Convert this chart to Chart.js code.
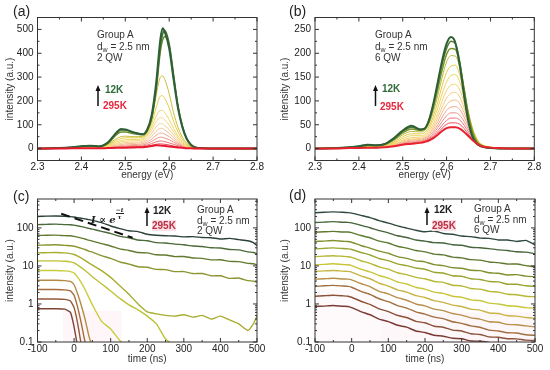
<!DOCTYPE html>
<html>
<head>
<meta charset="utf-8">
<script src="https://cdn.jsdelivr.net/npm/chart.js@4.4.1/dist/chart.umd.min.js"></script>
<style>
  body { margin: 0; background: #fff; }
  #fig { position: relative; width: 550px; height: 370px; overflow: hidden; font-family: "Liberation Sans", Arial, sans-serif; color: #333; }
  canvas { position: absolute; }
  .lab { position: absolute; font-size: 14px; color: #222; }
  .note { position: absolute; font-size: 10px; white-space: nowrap; color: #333; }
  .note sub { font-size: 7px; vertical-align: -2px; line-height: 0; }
  .k { position: absolute; font-size: 10px; font-weight: bold; white-space: nowrap; }
  .fit { position: absolute; font-family: "DejaVu Serif", serif; font-style: italic; font-weight: bold; font-size: 10px; color: #222; white-space: nowrap; }
  .frac { display: inline-block; vertical-align: 4px; font-size: 6px; line-height: 6px; text-align: center; }
  .frac span { display: block; }
  .frac span:first-child { border-bottom: 1px solid #222; }
  svg { position: absolute; left: 0; top: 0; }
</style>
</head>
<body>
<div id="fig">
  <canvas id="ca" width="275" height="185" style="left:0;top:0"></canvas>
  <canvas id="cb" width="275" height="185" style="left:275px;top:0"></canvas>
  <canvas id="cc" width="275" height="185" style="left:0;top:185px"></canvas>
  <canvas id="cd" width="275" height="185" style="left:275px;top:185px"></canvas>

  <div class="lab" style="left:13px;top:3px">(a)</div>
  <div class="lab" style="left:289px;top:3px">(b)</div>
  <div class="lab" style="left:13px;top:188px">(c)</div>
  <div class="lab" style="left:289px;top:187px">(d)</div>

  <div class="note" style="left:97px;top:29px;line-height:11.5px">Group A<br>d<sub>w</sub> = 2.5 nm<br>2 QW</div>
  <div class="note" style="left:375px;top:29px;line-height:11.5px">Group A<br>d<sub>w</sub> = 2.5 nm<br>6 QW</div>
  <div class="note" style="left:197px;top:205px;line-height:10.5px">Group A<br>d<sub>w</sub> = 2.5 nm<br>2 QW</div>
  <div class="note" style="left:474px;top:204px;line-height:10.5px">Group A<br>d<sub>w</sub> = 2.5 nm<br>6 QW</div>

  <div class="k" style="left:105px;top:84px;color:#2f6b3a">12K</div>
  <div class="k" style="left:103px;top:100px;color:#e8273e">295K</div>
  <div class="k" style="left:382px;top:83px;color:#2f6b3a">12K</div>
  <div class="k" style="left:380px;top:101px;color:#e8273e">295K</div>
  <div class="k" style="left:153px;top:205px;color:#222">12K</div>
  <div class="k" style="left:152px;top:220px;color:#b8303f;background:#fbe0e8">295K</div>
  <div class="k" style="left:434px;top:204px;color:#222">12K</div>
  <div class="k" style="left:432px;top:220px;color:#b8303f;background:#fbe0e8">295K</div>

  <div class="fit" style="left:91px;top:207px">I ∝ e<span class="frac"><span>−t</span><span>τ</span></span></div>

  <svg width="550" height="370">
    <g stroke="#111" stroke-width="1.5" fill="#111">
      <line x1="98" y1="106" x2="98" y2="90"/><polygon points="98,85 95.5,91 100.5,91" stroke="none"/>
      <line x1="375.5" y1="106" x2="375.5" y2="90"/><polygon points="375.5,85 373,91 378,91" stroke="none"/>
      <line x1="147" y1="226" x2="147" y2="212"/><polygon points="147,207 144.5,213 149.5,213" stroke="none"/>
      <line x1="427" y1="225" x2="427" y2="212"/><polygon points="427,207 424.5,213 429.5,213" stroke="none"/>
    </g>
  </svg>
</div>

<script>
// ---- data: PL spectra, panel (a) 2 QW ----
const energyA = [2.30, 2.35, 2.38, 2.40, 2.42, 2.44, 2.46, 2.48, 2.49, 2.50, 2.52, 2.54, 2.55, 2.56, 2.57, 2.58, 2.585, 2.59, 2.60, 2.61, 2.62, 2.63, 2.64, 2.65, 2.66, 2.68, 2.70, 2.75, 2.80];
const spectraA = [
  [0, 2, 6, 10, 12, 9, 25, 68, 82, 80, 68, 60, 80, 140, 270, 460, 505, 490, 420, 290, 170, 90, 40, 15, 5, 1, 0, 0, 0],
  [0, 2, 6, 10, 12, 9, 24, 65, 78, 78, 66, 60, 78, 130, 250, 430, 480, 495, 440, 310, 180, 95, 42, 16, 5, 1, 0, 0, 0],
  [0, 2, 5, 9, 11, 9, 22, 58, 70, 70, 62, 58, 75, 125, 240, 410, 455, 470, 430, 300, 175, 92, 40, 15, 5, 1, 0, 0, 0],
  [0, 2, 5, 8, 10, 8, 18, 42, 50, 52, 50, 52, 70, 120, 220, 300, 305, 290, 230, 150, 90, 48, 22, 8, 3, 1, 0, 0, 0],
  [0, 2, 5, 8, 9, 7, 15, 35, 42, 45, 45, 48, 65, 105, 170, 220, 222, 210, 170, 115, 70, 38, 18, 7, 2, 0, 0, 0, 0],
  [0, 2, 4, 7, 8, 6, 12, 28, 34, 37, 38, 42, 58, 90, 135, 160, 160, 150, 122, 85, 52, 30, 14, 6, 2, 0, 0, 0, 0],
  [0, 2, 4, 6, 7, 5, 10, 22, 28, 31, 33, 37, 52, 78, 112, 130, 128, 120, 98, 70, 44, 25, 12, 5, 2, 0, 0, 0, 0],
  [0, 1, 3, 5, 6, 4, 8, 18, 22, 25, 27, 31, 44, 64, 90, 105, 103, 96, 80, 57, 36, 20, 10, 4, 1, 0, 0, 0, 0],
  [0, 1, 3, 4, 5, 4, 7, 14, 17, 20, 22, 26, 36, 52, 72, 85, 84, 78, 64, 46, 29, 16, 8, 3, 1, 0, 0, 0, 0],
  [0, 1, 2, 3, 4, 3, 5, 10, 13, 15, 17, 20, 28, 40, 55, 65, 64, 60, 50, 36, 23, 13, 6, 2, 1, 0, 0, 0, 0],
  [0, 1, 2, 3, 3, 2, 4, 8, 10, 11, 13, 15, 21, 30, 41, 48, 47, 44, 37, 27, 17, 10, 5, 2, 1, 0, 0, 0, 0],
  [0, 1, 1, 2, 2, 2, 3, 5, 7, 8, 9, 11, 15, 21, 28, 32, 31, 29, 24, 18, 12, 7, 3, 1, 0, 0, 0, 0, 0],
  [0, 0, 1, 1, 2, 1, 2, 4, 5, 5, 6, 8, 10, 14, 18, 20, 19, 18, 15, 11, 7, 4, 2, 1, 0, 0, 0, 0, 0],
  [0, 0, 1, 1, 1, 1, 2, 3, 3, 4, 5, 6, 8, 11, 14, 13, 12, 11, 9, 7, 5, 3, 1, 1, 0, 0, 0, 0, 0]
];

// ---- data: PL spectra, panel (b) 6 QW ----
const energyB = [2.30, 2.35, 2.38, 2.40, 2.42, 2.44, 2.46, 2.48, 2.50, 2.52, 2.54, 2.55, 2.56, 2.57, 2.58, 2.59, 2.60, 2.61, 2.62, 2.63, 2.64, 2.65, 2.66, 2.67, 2.68, 2.70, 2.72, 2.75, 2.80];
const spectraB = [
  [0, 1, 3, 5, 8, 7, 10, 22, 38, 48, 40, 42, 60, 95, 140, 185, 220, 234, 222, 175, 110, 55, 22, 9, 4, 1, 0, 0, 0],
  [0, 1, 3, 5, 7, 7, 10, 21, 36, 45, 40, 42, 60, 92, 135, 178, 210, 225, 220, 182, 120, 62, 26, 11, 5, 1, 0, 0, 0],
  [0, 1, 3, 4, 7, 6, 9, 19, 33, 41, 38, 41, 57, 86, 125, 165, 198, 210, 208, 178, 125, 70, 32, 13, 6, 2, 0, 0, 0],
  [0, 1, 2, 4, 6, 6, 8, 17, 29, 36, 35, 38, 52, 78, 112, 150, 182, 195, 194, 170, 125, 75, 38, 16, 7, 2, 1, 0, 0],
  [0, 1, 2, 4, 5, 5, 7, 14, 25, 31, 31, 34, 46, 68, 98, 132, 160, 173, 175, 155, 118, 75, 40, 18, 8, 2, 1, 0, 0],
  [0, 1, 2, 3, 5, 5, 6, 12, 21, 27, 27, 30, 41, 60, 86, 115, 140, 153, 155, 140, 108, 72, 40, 19, 9, 3, 1, 0, 0],
  [0, 1, 2, 3, 4, 4, 6, 10, 18, 23, 24, 27, 36, 52, 74, 100, 122, 133, 135, 123, 96, 65, 37, 18, 9, 3, 1, 0, 0],
  [0, 1, 2, 3, 4, 4, 5, 9, 16, 20, 21, 24, 32, 46, 65, 87, 106, 116, 118, 108, 85, 58, 34, 17, 8, 3, 1, 0, 0],
  [0, 1, 1, 2, 3, 3, 5, 8, 14, 18, 19, 22, 29, 41, 57, 76, 92, 100, 102, 94, 75, 52, 31, 16, 8, 3, 1, 0, 0],
  [0, 1, 1, 2, 3, 3, 4, 7, 12, 16, 17, 20, 26, 36, 50, 66, 80, 87, 88, 82, 66, 46, 28, 15, 7, 3, 1, 0, 0],
  [0, 1, 1, 2, 3, 3, 4, 6, 11, 14, 15, 18, 23, 32, 44, 57, 69, 75, 75, 70, 57, 40, 25, 14, 7, 3, 1, 0, 0],
  [0, 0, 1, 2, 2, 2, 3, 6, 10, 12, 14, 16, 21, 28, 38, 49, 59, 64, 64, 60, 49, 35, 22, 12, 6, 2, 1, 0, 0],
  [0, 0, 1, 1, 2, 2, 3, 5, 9, 11, 13, 15, 19, 25, 33, 43, 51, 54, 54, 51, 42, 30, 19, 11, 5, 2, 1, 0, 0],
  [0, 0, 1, 1, 2, 2, 3, 5, 8, 10, 12, 14, 17, 22, 29, 37, 43, 45, 45, 42, 35, 26, 17, 10, 5, 2, 1, 0, 0]
];

// ---- data: decay transients, panel (c) 2 QW ----
const timeC = [-100, -75, -50, -25, -10, 0, 10, 20, 30, 40, 50, 75, 100, 125, 150, 175, 200, 225, 250, 275, 300, 325, 350, 375, 400, 425, 450, 475, 490, 500];
const decaysC = [
  [200, 204, 206, 203, 198, 193, 186, 179, 172, 165, 158, 138, 112, 96, 84, 80, 68, 64, 62, 61, 58, 59, 56, 55, 51, 53, 49, 46, 41, 34],
  [122, 124, 126, 122, 121, 118, 113, 108, 103, 97, 93, 81, 71, 60, 55, 48, 46, 41, 40, 37.5, 36, 33.5, 32.5, 30, 29.5, 27, 26.5, 23.5, 22.5, 21],
  [63, 64, 64.5, 62.5, 62, 60, 57, 54, 51, 47.5, 45, 38.5, 33.5, 28, 25.5, 22.5, 22, 19.6, 19.3, 17.6, 17.7, 16.2, 15.8, 14.4, 14.5, 13.2, 13, 11.7, 11.4, 10.6],
  [35, 35.5, 36, 34.6, 34, 33, 31, 29, 27, 24.6, 23, 18.6, 15.8, 12.7, 11.2, 9.5, 9.2, 8.1, 8, 7.1, 7.1, 6.3, 6.3, 5.5, 5.5, 4.7, 4.8, 4.1, 4, 3.7],
  [22, 22.3, 22.5, 22, 21, 20, 18, 16, 14, 12, 10.5, 7.5, 5, 3, 1.8, 1.0, 0.62, 0.55, 0.5, 0.48, 0.52, 0.45, 0.5, 0.4, 0.48, 0.38, 0.3, 0.2, 0.3, 0.48],
  [13.5, 13.6, 13.6, 13.3, 12.8, 12, 10.5, 9, 7.6, 6.3, 5.2, 3.4, 2.2, 1.4, 0.95, 0.7, 0.48, 0.3, 0.12, 0.08],
  [7.5, 7.6, 7.6, 7.4, 7.1, 6.5, 5, 3.6, 2.4, 1.5, 0.95, 0.35, 0.22, 0.11, 0.07],
  [4.2, 4.2, 4.2, 4.1, 3.9, 3.2, 1.8, 0.9, 0.4, 0.15, 0.07],
  [2.4, 2.4, 2.4, 2.35, 2.2, 1.7, 0.8, 0.3, 0.1, 0.06],
  [1.35, 1.35, 1.35, 1.32, 1.2, 0.8, 0.3, 0.08],
  [0.75, 0.75, 0.75, 0.73, 0.6, 0.25, 0.07]
];
const fitTime = [-35, 160];
const fitInt = [235, 55];

// ---- data: decay transients, panel (d) 6 QW ----
const timeD = [-100, -75, -50, -25, -10, 0, 25, 50, 75, 100, 125, 150, 175, 200, 225, 250, 275, 300, 325, 350, 375, 400, 425, 450, 475, 500];
const decaysD = [
  [250, 258, 263, 257, 252, 245, 214, 187, 156, 134, 113, 99, 87, 79, 83, 71, 68, 61, 59, 54, 53, 48, 48, 44, 47, 36],
  [138, 142, 146, 141, 140, 135, 117, 101, 85, 74, 62, 56, 48, 45, 41, 40, 36, 35, 31, 30, 28.5, 26.5, 25.5, 23.5, 23, 21],
  [77, 79, 81, 78, 78, 75, 63, 55, 45, 40, 33, 29.5, 25.5, 23.5, 20.5, 19.5, 17, 16.3, 14.6, 14.2, 12.7, 12.2, 11.2, 11.2, 10.2, 9.5],
  [44, 45, 46.5, 44.5, 44, 42, 34.5, 29.5, 24.5, 21.5, 17.6, 15.8, 13.6, 12.8, 10.8, 10.2, 9, 8.7, 7.7, 7.5, 6.6, 6.4, 5.8, 5.9, 5.4, 5.2],
  [28, 29, 29.8, 28.7, 28, 27, 22.6, 19.4, 15.7, 13.8, 11.3, 10.2, 8.8, 8.2, 6.8, 6.5, 5.5, 5.35, 4.6, 4.4, 3.9, 3.8, 3.3, 3.3, 3, 2.9],
  [17.6, 18.1, 18.6, 17.9, 17.5, 16.8, 13.7, 11.7, 9.4, 8.2, 6.6, 5.9, 5, 4.6, 3.9, 3.7, 3.1, 3, 2.55, 2.45, 2.15, 2.05, 1.8, 1.75, 1.6, 1.55],
  [10.7, 11, 11.4, 10.9, 10.7, 10.2, 8.2, 7, 5.6, 4.8, 3.8, 3.35, 2.75, 2.45, 2.05, 1.9, 1.6, 1.5, 1.28, 1.23, 1.05, 1, 0.9, 0.87, 0.8, 0.77],
  [7.2, 7.4, 7.6, 7.3, 7.2, 6.9, 5.5, 4.6, 3.5, 2.95, 2.35, 2.05, 1.66, 1.48, 1.22, 1.1, 0.93, 0.86, 0.73, 0.69, 0.58, 0.56, 0.49, 0.48, 0.44, 0.42],
  [4.5, 4.6, 4.75, 4.55, 4.5, 4.3, 3.45, 2.85, 2.15, 1.84, 1.46, 1.25, 1, 0.89, 0.73, 0.67, 0.56, 0.51, 0.43, 0.4, 0.34, 0.33, 0.29, 0.285, 0.265, 0.25],
  [2.9, 3, 3.08, 2.97, 2.9, 2.75, 2.15, 1.78, 1.37, 1.15, 0.9, 0.78, 0.62, 0.54, 0.45, 0.41, 0.34, 0.31, 0.265, 0.245, 0.205, 0.195, 0.175, 0.172, 0.155, 0.15],
  [1.6, 1.65, 1.7, 1.64, 1.6, 1.5, 1.18, 0.97, 0.74, 0.63, 0.5, 0.44, 0.35, 0.32, 0.26, 0.245, 0.205, 0.195, 0.165, 0.158, 0.136, 0.133, 0.122, 0.121, 0.112, 0.11],
  [0.86, 0.88, 0.91, 0.87, 0.86, 0.8, 0.63, 0.52, 0.4, 0.345, 0.275, 0.245, 0.195, 0.178, 0.15, 0.142, 0.125, 0.122, 0.106, 0.105, 0.098, 0.095]
];

// ---- axis ticks ----
const energyTicks = [2.3, 2.4, 2.5, 2.6, 2.7, 2.8];
const energyMinor = [2.35, 2.45, 2.55, 2.65, 2.75];
const intensTicksA = [0, 100, 200, 300, 400, 500];
const intensMinorA = [50, 150, 250, 350, 450];
const intensTicksB = [0, 50, 100, 150, 200, 250];
const intensMinorB = [25, 75, 125, 175, 225];
const timeTicks = [-100, 0, 100, 200, 300, 400, 500];
const timeMinor = [-50, 50, 150, 250, 350, 450];
const logTicks = [0.1, 1, 10, 100];
const logMinor = [0.2, 0.3, 0.4, 0.5, 0.6, 0.7, 0.8, 0.9, 2, 3, 4, 5, 6, 7, 8, 9, 20, 30, 40, 50, 60, 70, 80, 90, 200, 300, 400, 500];

// ---- styles ----
const colorsA = ['#2f5f36', '#46742f', '#6b8a2c', '#c9bf3a', '#e3cd45', '#efd563', '#f3d67e', '#f4cf8f', '#f3c08e', '#f1a98a', '#ef9182', '#ec7070', '#e94757', '#e8192e'];
const colorsB = ['#2f5f36', '#4f7a30', '#7a942e', '#b9b83a', '#e2cb45', '#efd25e', '#f3d272', '#f4c97e', '#f3b886', '#f2a286', '#f08c84', '#ed7077', '#ea5060', '#e8222f'];
const colorsC = ['#2b4236', '#4a6a38', '#627a2e', '#8a9530', '#a8ad2e', '#bcc236', '#c9cc3a', '#b58a45', '#a56b3c', '#935a3a', '#7e4536'];
const colorsD = ['#2f4a3c', '#46663a', '#5f7a30', '#80902e', '#9aa430', '#b6b834', '#c8c63a', '#c9b545', '#b8904a', '#a07040', '#8a5238', '#7a3a32'];

const FONT = { family: '"Liberation Sans", Arial, sans-serif', size: 10 };

// faint pink tint behind the lowest traces, as in the scanned figure
const tintPlugin = {
  id: 'tint',
  beforeDatasetsDraw(chart, args, o) {
    if (!o.boxes) return;
    const { ctx, scales: { x, y } } = chart;
    ctx.save();
    o.boxes.forEach(b => {
      const x0 = x.getPixelForValue(b.x0), x1 = x.getPixelForValue(b.x1);
      const y0 = y.getPixelForValue(b.y0), y1 = y.getPixelForValue(b.y1);
      ctx.fillStyle = b.color;
      ctx.fillRect(x0, y1, x1 - x0, y0 - y1);
    });
    ctx.restore();
  }
};

// Box frame + inward tick marks drawn on all four sides
const framePlugin = {
  id: 'frame',
  afterDatasetsDraw(chart, args, o) {
    const { ctx, chartArea: a, scales } = chart;
    const x = scales.x, y = scales.y;
    ctx.save();
    ctx.strokeStyle = '#333';
    ctx.lineWidth = 1;
    ctx.strokeRect(a.left, a.top, a.right - a.left, a.bottom - a.top);
    ctx.beginPath();
    const marks = (vals, len, horiz) => vals.forEach(v => {
      if (horiz) {
        const p = x.getPixelForValue(v);
        ctx.moveTo(p, a.bottom); ctx.lineTo(p, a.bottom - len);
        ctx.moveTo(p, a.top); ctx.lineTo(p, a.top + len);
      } else {
        const p = y.getPixelForValue(v);
        ctx.moveTo(a.left, p); ctx.lineTo(a.left + len, p);
        ctx.moveTo(a.right, p); ctx.lineTo(a.right - len, p);
      }
    });
    marks(o.xMajor, 4, true);
    marks(o.xMinor, 2, true);
    marks(o.yMajor, 4, false);
    marks(o.yMinor, 2, false);
    ctx.stroke();
    ctx.restore();
  }
};

function toPoints(xs, ys) {
  return ys.map((v, i) => ({ x: xs[i], y: v }));
}

function makePanel(id, p) {
  new Chart(document.getElementById(id), {
    type: 'line',
    data: { datasets: p.datasets },
    options: {
      responsive: false,
      animation: false,
      devicePixelRatio: 1,
      layout: { padding: { left: 0, top: p.top, right: p.right, bottom: 0 } },
      elements: { point: { radius: 0 } },
      plugins: {
        legend: { display: false },
        tooltip: { enabled: false },
        tint: { boxes: p.tint },
        frame: { xMajor: p.xTicks, xMinor: p.xMinor, yMajor: p.yTicks, yMinor: p.yMinor }
      },
      scales: {
        x: {
          type: 'linear', min: p.xMin, max: p.xMax,
          afterBuildTicks: s => { s.ticks = p.xTicks.map(v => ({ value: v })); },
          ticks: { font: FONT, color: '#222', padding: 1, maxRotation: 0, autoSkip: false, callback: p.xFmt },
          grid: { display: false, drawTicks: false },
          border: { display: false },
          title: { display: true, text: p.xTitle, font: FONT, color: '#333', padding: { top: 0, bottom: p.xTitlePad } },
          afterFit: s => { s.height = p.xHeight; }
        },
        y: {
          type: p.yType, min: p.yMin, max: p.yMax,
          afterBuildTicks: s => { s.ticks = p.yTicks.map(v => ({ value: v })); },
          ticks: { font: FONT, color: '#222', padding: 4, autoSkip: false, callback: v => String(v) },
          grid: { display: false, drawTicks: false },
          border: { display: false },
          title: { display: true, text: 'intensity (a.u.)', font: FONT, color: '#333', padding: { top: 4, bottom: 0 } },
          afterFit: s => { s.width = p.left; }
        }
      }
    },
    plugins: [tintPlugin, framePlugin]
  });
}

function spectraSets(xs, rows, colors) {
  const last = rows.length - 1;
  return rows.map((r, i) => ({
    data: toPoints(xs, r),
    borderColor: colors[i],
    borderWidth: i === 0 ? 2 : (i < 3 ? 1.5 : (i === last ? 2 : 1)),
    cubicInterpolationMode: 'monotone',
    order: i === last ? -1 : i
  }));
}

function decaySets(xs, rows, colors) {
  return rows.map((r, i) => ({
    data: toPoints(xs, r),
    borderColor: colors[i],
    borderWidth: 1.4,
    tension: 0.15
  }));
}

makePanel('ca', {
  datasets: spectraSets(energyA, spectraA, colorsA),
  left: 37.5, right: 18, top: 17.5, xHeight: 24.5,
  xMin: 2.3, xMax: 2.8, xTicks: energyTicks, xMinor: energyMinor, xFmt: v => v.toFixed(1),
  xTitle: 'energy (eV)', xTitlePad: 4,
  yType: 'linear', yMin: -50, yMax: 550, yTicks: intensTicksA, yMinor: intensMinorA
});

makePanel('cb', {
  datasets: spectraSets(energyB, spectraB, colorsB),
  left: 40, right: 15.7, top: 17.5, xHeight: 24.5,
  xMin: 2.3, xMax: 2.8, xTicks: energyTicks, xMinor: energyMinor, xFmt: v => v.toFixed(1),
  xTitle: 'energy (eV)', xTitlePad: 4,
  yType: 'linear', yMin: -25, yMax: 275, yTicks: intensTicksB, yMinor: intensMinorB
});

const setsC = decaySets(timeC, decaysC, colorsC);
setsC.unshift({
  data: toPoints(fitTime, fitInt),
  borderColor: '#111', borderWidth: 2, borderDash: [9, 5], tension: 0
});
makePanel('cc', {
  datasets: setsC,
  left: 37.5, right: 18, top: 14, xHeight: 28,
  xMin: -100, xMax: 500, xTicks: timeTicks, xMinor: timeMinor, xFmt: v => String(v),
  xTitle: 'time (ns)', xTitlePad: 5,
  yType: 'logarithmic', yMin: 0.1, yMax: 575, yTicks: logTicks, yMinor: logMinor,
  tint: [{ x0: -30, x1: 130, y0: 0.1, y1: 0.65, color: 'rgba(252, 228, 238, 0.35)' }]
});

makePanel('cd', {
  datasets: decaySets(timeD, decaysD, colorsD),
  left: 40, right: 15, top: 14, xHeight: 28,
  xMin: -100, xMax: 500, xTicks: timeTicks, xMinor: timeMinor, xFmt: v => String(v),
  xTitle: 'time (ns)', xTitlePad: 5,
  yType: 'logarithmic', yMin: 0.1, yMax: 575, yTicks: logTicks, yMinor: logMinor,
  tint: [{ x0: 80, x1: 500, y0: 0.1, y1: 0.6, color: 'rgba(252, 230, 238, 0.3)' },
         { x0: -100, x1: 80, y0: 0.1, y1: 2.5, color: 'rgba(252, 236, 242, 0.25)' }]
});
</script>
</body>
</html>
